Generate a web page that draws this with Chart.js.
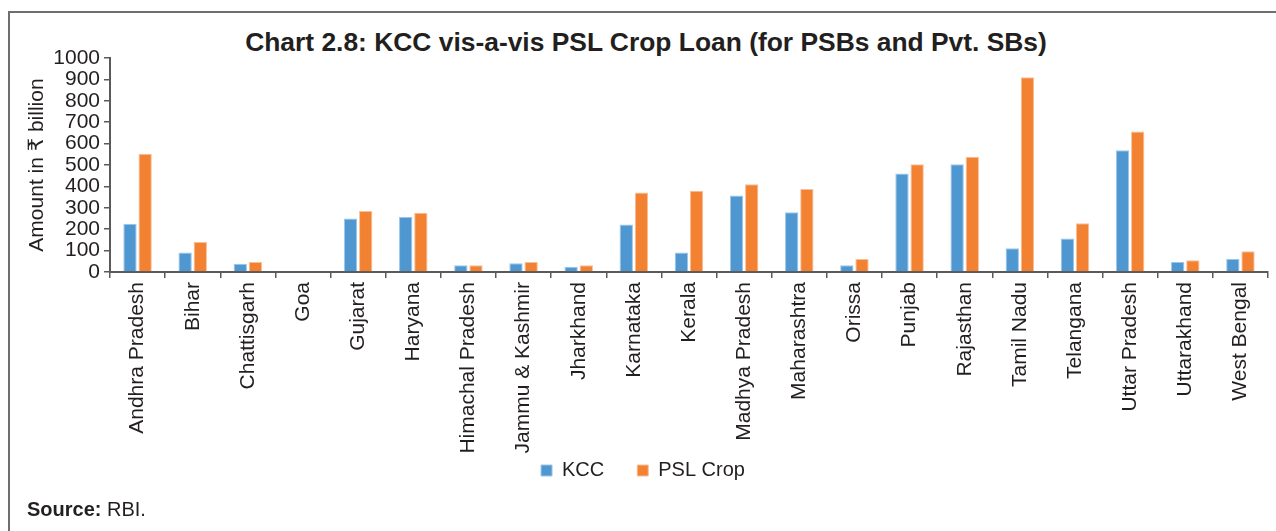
<!DOCTYPE html>
<html>
<head>
<meta charset="utf-8">
<script src="https://cdn.jsdelivr.net/npm/chart.js@4/dist/chart.umd.min.js"></script>
<style>
  html, body { margin: 0; padding: 0; background: #ffffff; }
  #wrap { position: relative; width: 1276px; height: 531px; overflow: hidden; background: #ffffff; }
  #frame { position: absolute; left: 8px; top: 11px; width: 1300px; height: 600px;
           border-top: 2px solid #6e6e6e; border-left: 2px solid #6e6e6e; box-sizing: border-box; }
  #title { position: absolute; top: 27px; left: 0; width: 1292px; text-align: center;
           font: bold 26.4px "Liberation Sans", Arial, sans-serif; color: #231f20; white-space: nowrap; }
  #source { position: absolute; left: 27px; top: 498px; font: 20px "Liberation Sans", Arial, sans-serif; color: #231f20; }
  canvas { position: absolute; left: 0; top: 0; }
</style>
</head>
<body>
<div id="wrap">
  <div id="frame"></div>
  <div id="title">Chart 2.8: KCC vis-a-vis PSL Crop Loan (for PSBs and Pvt. SBs)</div>
  <canvas id="c" width="1276" height="531"></canvas>
  <div id="source"><b>Source:</b> RBI.</div>
</div>
<script>
const categories = ["Andhra Pradesh", "Bihar", "Chattisgarh", "Goa", "Gujarat", "Haryana",
  "Himachal Pradesh", "Jammu & Kashmir", "Jharkhand", "Karnataka", "Kerala", "Madhya Pradesh",
  "Maharashtra", "Orissa", "Punjab", "Rajasthan", "Tamil Nadu", "Telangana", "Uttar Pradesh",
  "Uttarakhand", "West Bengal"];
const kccValues = [226, 91, 39, 3, 250, 257, 31, 41, 25, 222, 91, 358, 279, 31, 460, 503, 111, 156, 569, 47, 61];
const pslCropValues = [553, 140, 47, 3, 285, 277, 31, 47, 31, 372, 380, 410, 388, 61, 503, 539, 910, 228, 656, 55, 97];
const yTicks = [0, 100, 200, 300, 400, 500, 600, 700, 800, 900, 1000];
const seriesNames = ["KCC", "PSL Crop"];

const FONT = "'Liberation Sans', Arial, 'DejaVu Sans', sans-serif";
const AXIS = "#5a5a5a";
const TXT = "#231f20";

// let rotated x labels draw below the (shortened) axis box without clipping
const extendXBox = {
  id: "extendXBox",
  afterLayout(chart) { const x = chart.scales.x; x.bottom = x.top + 200; }
};

new Chart(document.getElementById("c"), {
  type: "bar",
  data: {
    labels: categories,
    datasets: [
      { label: seriesNames[0], data: kccValues, backgroundColor: "#4e97d1", borderColor: "#9cc6e8",
        borderWidth: 1, categoryPercentage: 0.55, barPercentage: 0.88 },
      { label: seriesNames[1], data: pslCropValues, backgroundColor: "#f28131", borderColor: "#f8bf98",
        borderWidth: 1, categoryPercentage: 0.55, barPercentage: 0.88 }
    ]
  },
  plugins: [extendXBox],
  options: {
    responsive: false,
    animation: false,
    devicePixelRatio: 1,
    layout: { padding: { top: 58, left: 18, right: 8, bottom: 40.5 } },
    plugins: {
      title: { display: false },
      tooltip: { enabled: false },
      legend: {
        position: "bottom",
        labels: { boxWidth: 11, boxHeight: 11, padding: 33, color: TXT,
                  font: { family: FONT, size: 20 } }
      }
    },
    scales: {
      x: {
        grid: { display: true, drawOnChartArea: false, drawTicks: true, tickLength: 6, color: AXIS, lineWidth: 1.5 },
        border: { display: true, color: AXIS, width: 2 },
        ticks: { autoSkip: false, minRotation: 90, maxRotation: 90, padding: 4, color: TXT,
                 font: { family: FONT, size: 21 } },
        afterFit: (s) => { s.height = 155.5; }
      },
      y: {
        min: 0, max: 1000,
        afterBuildTicks: (s) => { s.ticks = yTicks.map(v => ({ value: v })); },
        grid: { display: true, drawOnChartArea: false, drawTicks: true, tickLength: 6, color: AXIS, lineWidth: 1.5 },
        border: { display: true, color: AXIS, width: 2 },
        ticks: { autoSkip: false, padding: 4, color: TXT, font: { family: FONT, size: 21 },
                 callback: (v) => String(v) },
        title: { display: true, text: "Amount in ₹ billion", color: TXT, padding: { top: 7, bottom: 0 },
                 font: { family: FONT, size: 21 } },
        afterFit: (s) => { s.width = 92; }
      }
    }
  }
});
</script>
</body>
</html>
